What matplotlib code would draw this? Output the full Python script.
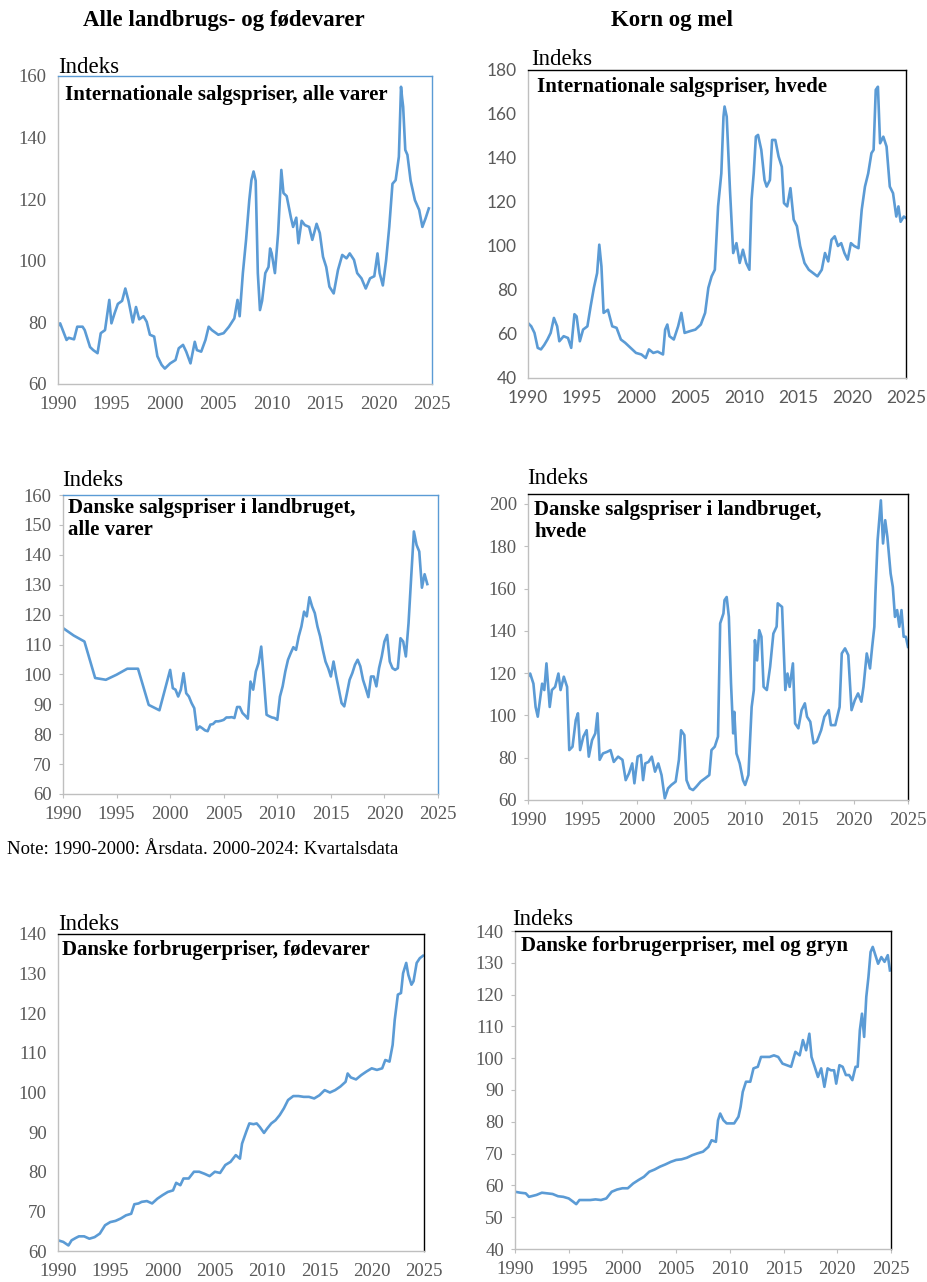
import matplotlib
matplotlib.use("Agg")
import matplotlib.pyplot as plt

W, H = 928, 1282

# ---------------- data (years as decimal, index values) ----------------
intl_all_x = [1990.0, 1990.2, 1990.8, 1991.0, 1991.5, 1991.8, 1992.3, 1992.5, 1993.0, 1993.3, 1993.7, 1994.0,
              1994.4, 1994.8, 1995.0, 1995.3, 1995.6, 1996.0, 1996.3, 1996.6, 1997.0, 1997.3, 1997.6, 1998.0,
              1998.3, 1998.6, 1999.0, 1999.3, 1999.7, 2000.0, 2000.5, 2001.0, 2001.3, 2001.7, 2002.0, 2002.4,
              2002.8, 2003.0, 2003.4, 2003.8, 2004.1, 2004.4, 2005.0, 2005.5, 2006.0, 2006.5, 2006.8, 2007.0,
              2007.3, 2007.6, 2007.9, 2008.1, 2008.3, 2008.5, 2008.7, 2008.9, 2009.1, 2009.4, 2009.7, 2009.85,
              2010.0, 2010.3, 2010.6, 2010.9, 2011.1, 2011.4, 2011.8, 2012.0, 2012.3, 2012.5, 2012.8, 2013.1,
              2013.5, 2013.8, 2014.2, 2014.5, 2014.8, 2015.1, 2015.4, 2015.8, 2016.2, 2016.6, 2017.0, 2017.3,
              2017.7, 2018.0, 2018.4, 2018.8, 2019.2, 2019.6, 2019.9, 2020.1, 2020.4, 2020.7, 2021.0, 2021.3,
              2021.6, 2021.9, 2022.1, 2022.2, 2022.3, 2022.5, 2022.7, 2023.0, 2023.4, 2023.8, 2024.1, 2024.4,
              2024.7]
intl_all_y = [78.8, 79.7, 74.3, 75.0, 74.5, 78.6, 78.6, 77.5, 72.0, 71.0, 70.0, 76.5,
              77.5, 87.3, 79.7, 83.0, 86.0, 87.0, 91.0, 87.0, 80.0, 85.0, 81.0, 82.0,
              80.2, 76.0, 75.4, 69.0, 66.2, 65.0, 66.7, 67.8, 71.6, 72.7, 70.5, 66.7,
              73.7, 71.0, 70.5, 74.3, 78.6, 77.5, 76.0, 76.5, 78.6, 81.3, 87.3, 82.0,
              96.0, 106.8, 119.7, 126.2, 129.0, 126.0, 96.0, 84.0, 87.0, 96.0, 98.0, 104.0,
              102.4, 96.0, 109.0, 129.5, 122.0, 121.0, 114.0, 111.0, 114.0, 105.7, 113.0, 111.6,
              111.0, 106.8, 112.0, 109.0, 101.3, 98.0, 91.6, 89.4, 97.0, 101.9, 100.8, 102.4,
              100.3, 96.0, 94.3, 91.0, 94.3, 95.0, 102.4, 96.0, 92.0, 100.0, 111.0, 125.0,
              126.2, 133.8, 156.5, 153.0, 150.0, 136.0, 134.4, 126.0, 119.7, 116.5, 111.0, 113.8,
              117.0]

intl_wheat_x = [1990.0, 1990.3, 1990.6, 1990.9, 1991.2, 1991.5, 1991.8, 1992.1, 1992.4, 1992.7, 1992.9, 1993.3,
                1993.7, 1994.0, 1994.3, 1994.5, 1994.8, 1995.1, 1995.5, 1995.8, 1996.1, 1996.4, 1996.6, 1996.8,
                1997.0, 1997.4, 1997.8, 1998.2, 1998.6, 1999.0, 1999.5, 2000.0, 2000.5, 2000.9, 2001.2, 2001.6,
                2002.0, 2002.5, 2002.7, 2002.9, 2003.1, 2003.5, 2003.9, 2004.2, 2004.5, 2005.0, 2005.5, 2006.0,
                2006.4, 2006.7, 2007.0, 2007.3, 2007.6, 2007.9, 2008.1, 2008.2, 2008.4, 2008.7, 2009.0, 2009.3,
                2009.6, 2009.9, 2010.2, 2010.5, 2010.7, 2010.9, 2011.1, 2011.3, 2011.6, 2011.9, 2012.1, 2012.4,
                2012.6, 2012.9, 2013.2, 2013.5, 2013.7, 2014.0, 2014.3, 2014.6, 2014.9, 2015.2, 2015.6, 2016.0,
                2016.4, 2016.8, 2017.2, 2017.5, 2017.8, 2018.1, 2018.4, 2018.7, 2019.0, 2019.3, 2019.6, 2019.9,
                2020.2, 2020.6, 2020.9, 2021.2, 2021.5, 2021.8, 2022.0, 2022.2, 2022.4, 2022.6, 2022.9, 2023.2,
                2023.5, 2023.8, 2024.1, 2024.3, 2024.5, 2024.8, 2025.0]
intl_wheat_y = [65.0, 63.5, 60.5, 53.7, 53.0, 55.0, 57.5, 60.5, 67.3, 63.5, 56.7, 59.0,
                58.2, 53.7, 69.0, 68.0, 56.7, 62.0, 63.5, 72.6, 81.0, 87.7, 100.6, 90.7,
                69.6, 71.0, 63.5, 62.8, 57.5, 56.0, 53.7, 51.4, 50.7, 49.1, 53.0, 51.4,
                52.0, 50.7, 62.0, 64.3, 59.0, 57.5, 63.5, 69.6, 60.5, 61.3, 62.0, 64.3,
                69.6, 81.0, 86.2, 89.2, 118.0, 133.0, 158.8, 163.4, 158.8, 125.5, 96.8, 101.3,
                92.3, 98.3, 92.3, 89.2, 121.0, 133.0, 149.7, 150.5, 143.7, 130.0, 127.0, 130.0,
                148.2, 148.2, 140.7, 136.0, 119.5, 118.0, 126.3, 112.0, 109.0, 100.0, 92.3, 89.2,
                87.7, 86.2, 89.2, 96.8, 93.0, 102.8, 104.4, 100.0, 101.3, 96.8, 93.8, 101.3,
                100.0, 99.0, 116.5, 127.0, 133.0, 142.2, 143.7, 171.0, 172.4, 146.7, 149.7, 145.2,
                127.0, 124.0, 113.4, 118.0, 111.0, 113.4, 112.7]

dk_all_x = [1990, 1991, 1992, 1993, 1994, 1995, 1996, 1997, 1998, 1999, 2000,
            2000.25, 2000.5, 2000.75, 2001.0, 2001.25, 2001.5, 2001.75, 2002.0, 2002.25, 2002.5, 2002.75,
            2003.0, 2003.25, 2003.5, 2003.75, 2004.0, 2004.25, 2004.5, 2004.75, 2005.0, 2005.25, 2005.5,
            2005.75, 2006.0, 2006.25, 2006.5, 2006.75, 2007.0, 2007.25, 2007.5, 2007.75, 2008.0, 2008.25,
            2008.5, 2008.75, 2009.0, 2009.25, 2009.5, 2009.75, 2010.0, 2010.25, 2010.5, 2010.75, 2011.0,
            2011.25, 2011.5, 2011.75, 2012.0, 2012.25, 2012.5, 2012.75, 2013.0, 2013.25, 2013.5, 2013.75,
            2014.0, 2014.25, 2014.5, 2014.75, 2015.0, 2015.25, 2015.5, 2015.75, 2016.0, 2016.25, 2016.5,
            2016.75, 2017.0, 2017.25, 2017.5, 2017.75, 2018.0, 2018.25, 2018.5, 2018.75, 2019.0, 2019.25,
            2019.5, 2019.75, 2020.0, 2020.25, 2020.5, 2020.75, 2021.0, 2021.25, 2021.5, 2021.75, 2022.0,
            2022.25, 2022.5, 2022.75, 2023.0, 2023.25, 2023.5, 2023.75, 2024.0]
dk_all_y = [115.5, 113.0, 111.0, 98.8, 98.2, 99.9, 101.9, 101.9, 89.8, 88.0, 101.5,
            95.4, 94.9, 92.6, 94.9, 100.4, 93.7, 92.6, 90.4, 88.7, 81.5, 82.6,
            82.0, 81.3, 81.0, 83.2, 83.4, 84.3, 84.3, 84.5, 84.8, 85.6, 85.6,
            85.7, 85.4, 89.1, 89.1, 87.1, 86.2, 85.2, 97.6, 94.9, 101.0, 103.8,
            109.3, 98.2, 86.5, 86.0, 85.6, 85.4, 84.8, 92.6, 96.0, 101.0, 104.9,
            107.1, 109.1, 108.2, 112.7, 116.0, 121.0, 119.4, 125.8, 122.7, 120.5, 116.0,
            112.7, 108.2, 104.3, 102.1, 99.3, 104.3, 99.3, 94.9, 90.4, 89.3, 93.7,
            98.2, 100.4, 103.2, 104.9, 102.7, 98.2, 95.4, 92.4, 99.3, 99.3, 96.0,
            102.1, 106.0, 111.0, 113.2, 104.3, 102.1, 101.5, 102.1, 112.1, 111.0, 106.0,
            117.1, 132.7, 147.8, 143.3, 141.1, 129.0, 133.5, 130.2]

dk_wheat_x = [1990.0, 1990.2, 1990.5, 1990.7, 1990.9, 1991.1, 1991.3, 1991.5, 1991.7, 1991.9, 1992.0, 1992.2,
              1992.5, 1992.8, 1993.0, 1993.3, 1993.6, 1993.8, 1994.1, 1994.4, 1994.6, 1994.8, 1995.1, 1995.4,
              1995.6, 1995.9, 1996.2, 1996.4, 1996.6, 1996.9, 1997.3, 1997.6, 1997.9, 1998.3, 1998.7, 1999.0,
              1999.3, 1999.6, 1999.8, 2000.1, 2000.4, 2000.6, 2000.8, 2001.1, 2001.4, 2001.7, 2002.0, 2002.3,
              2002.6, 2002.9, 2003.2, 2003.6, 2003.9, 2004.1, 2004.4, 2004.6, 2004.9, 2005.2, 2005.5, 2005.9,
              2006.3, 2006.7, 2006.9, 2007.2, 2007.5, 2007.7, 2008.0, 2008.1, 2008.3, 2008.5, 2008.7, 2008.9,
              2009.0, 2009.2, 2009.5, 2009.8, 2010.0, 2010.3, 2010.6, 2010.8, 2010.9, 2011.1, 2011.3, 2011.5,
              2011.7, 2012.0, 2012.3, 2012.6, 2012.9, 2013.0, 2013.4, 2013.7, 2013.9, 2014.1, 2014.4, 2014.6,
              2014.9, 2015.2, 2015.5, 2015.7, 2016.0, 2016.3, 2016.6, 2017.0, 2017.3, 2017.7, 2017.9, 2018.3,
              2018.7, 2018.9, 2019.2, 2019.5, 2019.8, 2020.1, 2020.4, 2020.7, 2020.9, 2021.2, 2021.5, 2021.7,
              2021.9, 2022.0, 2022.2, 2022.4, 2022.5, 2022.7, 2022.9, 2023.1, 2023.4, 2023.6, 2023.8, 2024.0,
              2024.2, 2024.4, 2024.6, 2024.8, 2025.0]
dk_wheat_y = [118.3, 119.8, 115.0, 104.0, 99.4, 107.2, 115.0, 112.0, 124.6, 110.4, 104.0, 112.0,
              113.5, 119.8, 112.0, 118.3, 113.5, 83.6, 85.2, 97.8, 101.0, 83.6, 90.0, 93.0,
              80.5, 88.3, 91.5, 101.0, 79.0, 82.0, 82.8, 83.6, 78.0, 80.5, 79.0, 69.4,
              72.6, 77.3, 67.9, 80.5, 81.3, 69.4, 77.3, 78.0, 80.5, 73.4, 77.3, 71.8,
              60.8, 65.5, 67.1, 68.7, 79.0, 93.0, 90.7, 69.4, 65.5, 64.7, 66.3, 68.7,
              70.2, 71.8, 83.6, 85.2, 90.0, 143.5, 148.2, 154.5, 156.0, 146.6, 115.0, 91.5,
              101.7, 82.0, 77.3, 69.4, 67.1, 71.8, 104.0, 112.0, 135.6, 126.0, 140.3, 137.2,
              113.5, 112.0, 123.0, 138.7, 142.0, 153.0, 151.3, 112.0, 119.8, 113.5, 124.6, 96.2,
              93.9, 102.5, 105.7, 99.4, 97.0, 86.8, 87.6, 93.0, 99.4, 102.5, 95.4, 95.4,
              104.0, 129.3, 131.7, 128.5, 102.5, 107.2, 110.4, 106.5, 113.5, 129.3, 122.2, 132.4,
              141.9, 157.6, 182.8, 195.4, 201.7, 181.3, 192.3, 184.4, 167.1, 160.8, 146.6, 149.8,
              141.9, 149.8, 137.2, 137.2, 132.4]

cpi_food_x = [1990.0, 1990.5, 1991.0, 1991.3, 1991.7, 1992.0, 1992.5, 1993.0, 1993.5, 1994.0, 1994.5, 1995.0,
              1995.5, 1996.0, 1996.5, 1997.0, 1997.3, 1997.7, 1998.0, 1998.5, 1999.0, 1999.5, 2000.0, 2000.5,
              2001.0, 2001.3, 2001.7, 2002.0, 2002.5, 2003.0, 2003.5, 2004.0, 2004.5, 2005.0, 2005.5, 2006.0,
              2006.5, 2007.0, 2007.4, 2007.6, 2008.0, 2008.3, 2008.7, 2009.0, 2009.3, 2009.7, 2010.0, 2010.4,
              2010.8, 2011.2, 2011.6, 2012.0, 2012.5, 2013.0, 2013.5, 2014.0, 2014.5, 2015.0, 2015.5, 2016.0,
              2016.5, 2017.0, 2017.5, 2017.7, 2018.0, 2018.5, 2019.0, 2019.5, 2020.0, 2020.5, 2021.0, 2021.3,
              2021.7, 2022.0, 2022.2, 2022.5, 2022.8, 2023.0, 2023.3, 2023.5, 2023.8, 2024.0, 2024.3, 2024.6,
              2024.9]
cpi_food_y = [62.7, 62.3, 61.4, 62.7, 63.3, 63.7, 63.7, 63.1, 63.5, 64.4, 66.5, 67.3,
              67.6, 68.2, 69.0, 69.4, 71.8, 72.0, 72.4, 72.6, 72.0, 73.2, 74.1, 74.9,
              75.3, 77.2, 76.6, 78.3, 78.3, 80.0, 80.0, 79.5, 78.9, 80.0, 79.7, 81.7,
              82.5, 84.2, 83.3, 87.1, 90.1, 92.2, 92.0, 92.2, 91.3, 89.8, 90.9, 92.2,
              93.0, 94.3, 96.0, 98.1, 99.1, 99.1, 98.9, 98.9, 98.5, 99.3, 100.6, 100.0,
              100.6, 101.5, 102.7, 104.8, 103.8, 103.3, 104.4, 105.3, 106.1, 105.7, 106.1, 108.2,
              107.8, 112.0, 118.3, 124.7, 125.1, 130.1, 132.7, 129.7, 127.2, 128.1, 132.7, 133.9,
              134.5]

cpi_flour_x = [1990.0, 1990.5, 1991.0, 1991.3, 1992.0, 1992.5, 1993.0, 1993.5, 1994.0, 1994.5, 1995.0, 1995.4,
               1995.7, 1996.0, 1996.5, 1997.0, 1997.5, 1998.0, 1998.5, 1999.0, 1999.5, 2000.0, 2000.5, 2001.0,
               2001.5, 2002.0, 2002.5, 2003.0, 2003.5, 2004.0, 2004.5, 2005.0, 2005.5, 2006.0, 2006.5, 2007.0,
               2007.5, 2008.0, 2008.3, 2008.7, 2008.9, 2009.1, 2009.4, 2009.7, 2010.0, 2010.4, 2010.8, 2011.0,
               2011.2, 2011.5, 2011.9, 2012.2, 2012.6, 2012.9, 2013.3, 2013.7, 2014.1, 2014.5, 2014.9, 2015.3,
               2015.7, 2016.1, 2016.5, 2016.8, 2017.1, 2017.4, 2017.6, 2017.9, 2018.2, 2018.5, 2018.8, 2019.1,
               2019.4, 2019.7, 2019.9, 2020.2, 2020.5, 2020.8, 2021.1, 2021.4, 2021.7, 2021.9, 2022.1, 2022.3,
               2022.5, 2022.7, 2022.9, 2023.1, 2023.3, 2023.5, 2023.8, 2024.1, 2024.4, 2024.7, 2024.9]
cpi_flour_y = [58.0, 57.7, 57.5, 56.4, 57.0, 57.7, 57.5, 57.3, 56.6, 56.4, 55.9, 54.9,
               54.1, 55.4, 55.4, 55.4, 55.6, 55.4, 55.9, 58.0, 58.7, 59.1, 59.1, 60.6,
               61.7, 62.7, 64.3, 65.0, 65.9, 66.6, 67.4, 68.0, 68.2, 68.7, 69.5, 70.1,
               70.6, 72.1, 74.2, 73.7, 80.5, 82.6, 80.5, 79.5, 79.5, 79.5, 81.6, 84.7,
               89.4, 92.6, 92.6, 96.8, 97.3, 100.4, 100.4, 100.4, 100.9, 100.4, 98.3, 97.8,
               97.3, 102.0, 100.9, 105.7, 102.5, 107.7, 100.4, 97.3, 94.1, 96.8, 91.0, 96.8,
               96.2, 96.2, 92.0, 97.8, 97.3, 94.7, 94.7, 93.1, 97.3, 97.3, 108.8, 114.0,
               106.7, 119.3, 125.5, 133.4, 135.0, 132.9, 129.7, 131.8, 130.3, 132.4, 127.6]

col_titles = ["Alle landbrugs- og fødevarer", "Korn og mel"]
panel_titles = ["Internationale salgspriser, alle varer",
                "Internationale salgspriser, hvede",
                "Danske salgspriser i landbruget,\nalle varer",
                "Danske salgspriser i landbruget,\nhvede",
                "Danske forbrugerpriser, fødevarer",
                "Danske forbrugerpriser, mel og gryn"]
ylabel = "Indeks"
note = "Note: 1990-2000: Årsdata. 2000-2024: Kvartalsdata"
xticks = [1990, 1995, 2000, 2005, 2010, 2015, 2020, 2025]

# ---------------- layout ----------------
LINE = "#5B9BD5"
TICKC = "#595959"
GRAY = "#BFBFBF"
SERIF = "Liberation Serif"

fig = plt.figure(figsize=(W / 100, H / 100), dpi=100)


def rect(l, t, r, b):
    return [l / W, 1 - b / H, (r - l) / W, (b - t) / H]


panels = [
    dict(box=(58, 76, 432, 384), ylim=(60, 160), yt=range(60, 161, 20), x=intl_all_x, y=intl_all_y,
         frame=LINE, tfont=SERIF, tsize=13.5, ticks=False, ind=(58, 73), tit=(65, 85)),
    dict(box=(528, 70, 906, 378), ylim=(40, 180), yt=range(40, 181, 20), x=intl_wheat_x, y=intl_wheat_y,
         frame="black", tfont="Lato", tsize=12.5, ticks=False, ind=(531, 65), tit=(537, 77)),
    dict(box=(63, 495, 438, 794), ylim=(60, 160), yt=range(60, 161, 10), x=dk_all_x, y=dk_all_y,
         frame=LINE, tfont=SERIF, tsize=13.5, ticks=True, ind=(62, 486), tit=(68, 498)),
    dict(box=(528, 494, 908, 800), ylim=(60, 204.7), yt=range(60, 201, 20), x=dk_wheat_x, y=dk_wheat_y,
         frame="black", tfont=SERIF, tsize=13.5, ticks=True, ind=(527, 484), tit=(534, 500)),
    dict(box=(58, 934, 424, 1251), ylim=(60, 140), yt=range(60, 141, 10), x=cpi_food_x, y=cpi_food_y,
         frame="black", tfont=SERIF, tsize=13.5, ticks=False, ind=(58, 930), tit=(62, 940)),
    dict(box=(515, 931, 891, 1249), ylim=(40, 140), yt=range(40, 141, 10), x=cpi_flour_x, y=cpi_flour_y,
         frame="black", tfont=SERIF, tsize=13.5, ticks=True, ind=(512, 925), tit=(521, 936)),
]

for i, p in enumerate(panels):
    ax = fig.add_axes(rect(*p["box"]))
    ax.plot(p["x"], p["y"], color=LINE, lw=1.9, solid_joinstyle="round")
    ax.set_xlim(1990, 2025)
    ax.set_ylim(*p["ylim"])
    ax.set_xticks(xticks)
    ax.set_yticks(list(p["yt"]))
    for s in ("left", "bottom"):
        ax.spines[s].set_color(GRAY)
        ax.spines[s].set_linewidth(1.0)
    for s in ("top", "right"):
        ax.spines[s].set_color(p["frame"])
        ax.spines[s].set_linewidth(1.0)
    tl = 3 if p["ticks"] else 0
    ax.tick_params(axis="both", length=tl, color=GRAY, labelcolor=TICKC, labelsize=p["tsize"])
    ax.tick_params(axis="y", pad=8 - tl)
    ax.tick_params(axis="x", pad=8.5 - tl)
    for lab in ax.get_xticklabels() + ax.get_yticklabels():
        lab.set_fontfamily(p["tfont"])
    fig.text(p["ind"][0] / W, 1 - p["ind"][1] / H, ylabel, family=SERIF, fontsize=16.5,
             ha="left", va="baseline", color="black")
    fig.text(p["tit"][0] / W, 1 - p["tit"][1] / H, panel_titles[i], family=SERIF, fontsize=15,
             fontweight="bold", ha="left", va="top", color="black", linespacing=1.15)

fig.text(83 / W, 1 - 10 / H, col_titles[0], family=SERIF, fontsize=16.5, fontweight="bold",
         ha="left", va="top")
fig.text(733 / W, 1 - 10 / H, col_titles[1], family=SERIF, fontsize=16.5, fontweight="bold",
         ha="right", va="top")
fig.text(7 / W, 1 - 850 / H, note, family=SERIF, fontsize=13.5, ha="left", va="center")

fig.savefig("out.png", dpi=100, facecolor="white")
